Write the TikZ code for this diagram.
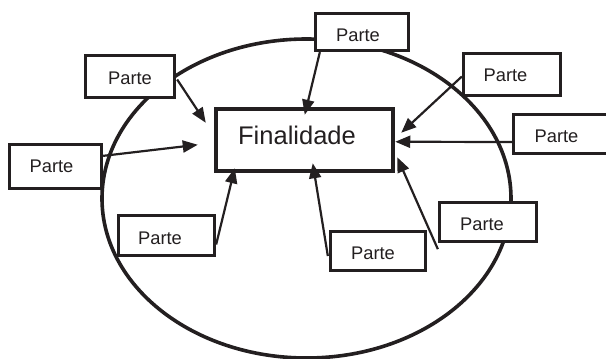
\documentclass[tikz,border=0pt]{standalone}
\usepackage{fontspec}
\setmainfont{Liberation Sans}
\usetikzlibrary{arrows.meta,calc}
\definecolor{ink}{HTML}{231F20}
\tikzset{
  partbox/.style={draw=ink, line width=3.3pt, fill=white, inner sep=0pt, minimum width=97pt, minimum height=40pt},
  mainbox/.style={draw=ink, line width=4.5pt, inner sep=0pt, minimum width=177pt, minimum height=62pt},
  lbl/.style={anchor=base, inner sep=0pt, text=ink, font=\fontsize{18.3pt}{20pt}\selectfont},
  mainlbl/.style={anchor=base, inner sep=0pt, text=ink, font=\fontsize{25.5pt}{28pt}\selectfont},
  conn/.style={draw=ink, line width=2.2pt, -{Triangle[length=15pt,width=12pt]}},
  oval/.style={draw=ink, line width=3.6pt}
}
\begin{document}
\begin{tikzpicture}[x=1pt,y=-1pt]
\useasboundingbox (0,0) rectangle (606,359);
\clip (0,0) rectangle (606,359);
% ellipse
\draw[oval] (306.5,198.5) ellipse [x radius=204.5, y radius=159.5];
% central box
\node[mainbox] (F) at (304.5,140) [minimum width=177pt, minimum height=62pt] {};
\node[mainlbl] (Ft) at (297,144) {Finalidade};
% part boxes
\node[partbox, minimum width=89pt, minimum height=42pt] (A) at (130,76.5) {};
\node[partbox, minimum width=92pt, minimum height=44pt] (B) at (55.5,166.5) {};
\node[partbox, minimum width=93pt, minimum height=37pt] (C) at (362,32) {};
\node[partbox, minimum width=97pt, minimum height=42pt] (D) at (512,74.5) {};
\node[partbox, minimum width=97pt, minimum height=39pt] (E) at (562,134) {};
\node[partbox, minimum width=96pt, minimum height=40pt] (G) at (166.5,235.5) {};
\node[partbox, minimum width=95pt, minimum height=39pt] (H) at (378,251) {};
\node[partbox, minimum width=97pt, minimum height=39pt] (I) at (488,222) {};
% labels
\node[lbl] (At) at (130,84) {Parte};
\node[lbl] (Bt) at (51.5,172) {Parte};
\node[lbl] (Ct) at (358,41) {Parte};
\node[lbl] (Dt) at (505.5,81) {Parte};
\node[lbl] (Et) at (556.5,142) {Parte};
\node[lbl] (Gt) at (160,244) {Parte};
\node[lbl] (Ht) at (373,259) {Parte};
\node[lbl] (It) at (482,230) {Parte};
% connector ends
\coordinate (tA) at ($(F.north west)+(-8,16)$);
\coordinate (tB) at ($(F.north west)+(-16,38)$);
\coordinate (tC) at ($(F.north west)+(91,8)$);
\coordinate (tD) at ($(F.north east)+(6,26)$);
\coordinate (tE) at ($(F.north east)+(0,35)$);
\coordinate (tG) at ($(F.south west)+(21,-5)$);
\coordinate (tH) at ($(F.south west)+(99,-10)$);
\coordinate (tI) at ($(F.south east)+(2,-16)$);
% connectors
\draw[conn] ($(A.east)+(1,3)$) -- (tA);
\draw[conn] ($(B.north east)+(0,13)$) -- (tB);
\draw[conn] ($(C.south west)+(6,0)$) -- (tC);
\draw[conn] ($(D.west)+(0,2)$) -- (tD);
\draw[conn] ($(E.west)+(0,8)$) -- (tE);
\draw[conn] ($(G.east)+(0,9)$) -- (tG);
\draw[conn] ($(H.west)+(-1,5)$) -- (tH);
\draw[conn] ($(I.south west)+(0,6)$) -- (tI);
\end{tikzpicture}
\end{document}
